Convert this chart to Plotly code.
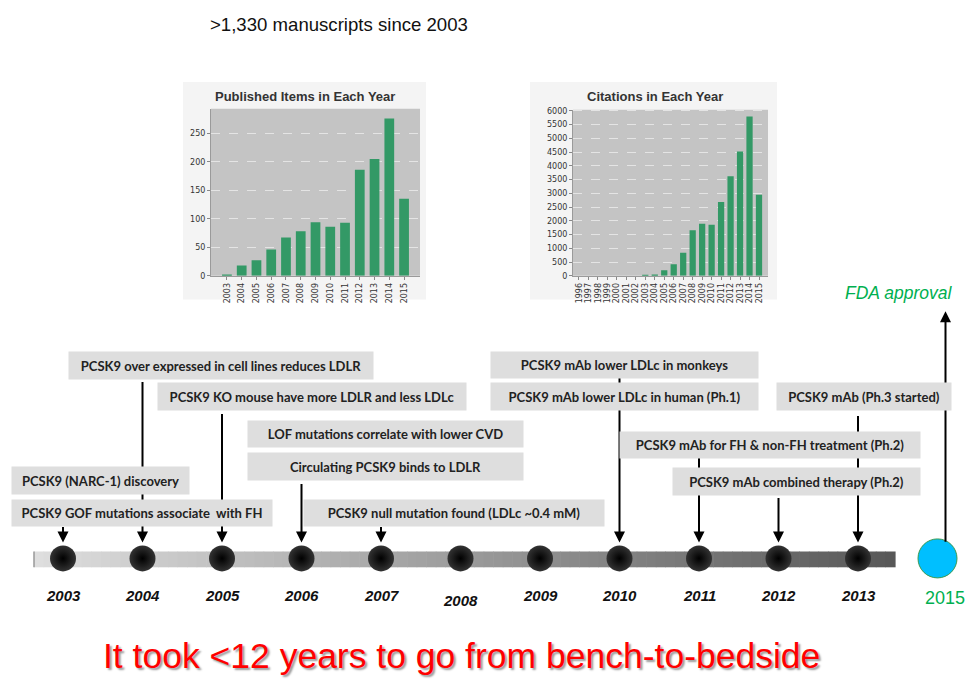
import plotly.graph_objects as go

W, H = 966, 682


def px(x):
    return x / W


def py(y):
    return 1 - y / H


# ---------------- data ----------------
pub_years = [str(y) for y in range(2003, 2016)]
pub_counts = [2, 18, 27, 46, 67, 78, 94, 86, 93, 186, 205, 276, 135]

cit_years = [str(y) for y in range(1996, 2016)]
cit_counts = [0, 0, 0, 0, 0, 0, 0, 20, 50, 200, 420, 840, 1660, 1890, 1860,
              2680, 3620, 4520, 5790, 2950]

timeline_years = ["2003", "2004", "2005", "2006", "2007", "2008", "2009",
                  "2010", "2011", "2012", "2013", "2015"]
milestone_years = timeline_years[:-1]
approval_year = "2015"

event_texts = [
    "PCSK9 over expressed in cell lines reduces LDLR",
    "PCSK9 KO mouse have more LDLR and less LDLc",
    "LOF mutations correlate with lower CVD",
    "Circulating PCSK9 binds to LDLR",
    "PCSK9 (NARC-1) discovery",
    "PCSK9 GOF mutations associate\u00a0 with FH",
    "PCSK9 null mutation found (LDLc ~0.4 mM)",
    "PCSK9 mAb lower LDLc in monkeys",
    "PCSK9 mAb lower LDLc in human (Ph.1)",
    "PCSK9 mAb (Ph.3 started)",
    "PCSK9 mAb for FH & non-FH treatment (Ph.2)",
    "PCSK9 mAb combined therapy (Ph.2)",
]
arrow_years = ["2003", "2004", "2005", "2006", "2007", "2010", "2011", "2012", "2013"]

# ---------------- layout geometry (pixels) ----------------
box_geom = [  # left, top, right, bottom
    (68, 352, 372, 379),
    (157, 384, 465, 411),
    (247, 422, 522, 448),
    (247, 454, 522, 481),
    (11, 469, 188, 496),
    (11, 502, 271, 528),
    (303, 502, 603, 528),
    (490, 352, 757, 378),
    (490, 384, 757, 411),
    (776, 384, 950, 411),
    (619, 433, 919, 459),
    (672, 470, 919, 497),
]
arrow_tails = [529, 384, 416, 486, 529, 379, 460, 500, 418]
ARROW_TIP = 546
LINE_Y = 562

GREEN_BAR = "#339966"
OFFICE_GREEN = "#00b050"
BOX_GRAY = "#dedede"


def cat(yr):
    return timeline_years.index(yr)


fig = go.Figure()

# bar charts
fig.add_trace(go.Bar(x=pub_years, y=pub_counts, marker_color=GREEN_BAR,
                     marker_line_width=0, width=0.66, xaxis="x", yaxis="y",
                     showlegend=False, hoverinfo="x+y"))
fig.add_trace(go.Bar(x=cit_years, y=cit_counts, marker_color=GREEN_BAR,
                     marker_line_width=0, width=0.66, xaxis="x2", yaxis="y2",
                     showlegend=False, hoverinfo="x+y"))

# timeline dots
fig.add_trace(go.Scatter(
    x=milestone_years, y=[0] * len(milestone_years), mode="markers",
    xaxis="x3", yaxis="y3", showlegend=False, hoverinfo="x",
    marker=dict(size=26, color="#333333",
                gradient=dict(type="radial", color="#000000"),
                line=dict(width=0))))
fig.add_trace(go.Scatter(
    x=[approval_year], y=[0], mode="markers", xaxis="x3", yaxis="y3",
    showlegend=False, hoverinfo="x",
    marker=dict(size=39, color="#00bfff", line=dict(width=1, color="#3a9a50"))))

shapes = []
# chart panels
for l, t, r, b in [(183, 80, 426, 300), (530, 80, 777, 300)]:
    shapes.append(dict(type="rect", xref="paper", yref="paper", x0=px(l), x1=px(r),
                       y0=py(b), y1=py(t), fillcolor="#f4f4f4", line_width=0,
                       layer="below"))
for xr, yr in [("x domain", "y domain"), ("x2 domain", "y2 domain")]:
    shapes.append(dict(type="rect", xref=xr, yref=yr, x0=0, x1=1, y0=0, y1=1,
                       fillcolor="#c4c4c4", line_width=0, layer="below"))

# gradient timeline bar
bx0, bx1, bt, bb = 34, 895, 555, 571
n = 90
c0, c1 = (222, 222, 222), (88, 88, 88)
for i in range(n):
    f = i / (n - 1)
    c = tuple(int(round(c0[k] + (c1[k] - c0[k]) * f)) for k in range(3))
    xa = bx0 + (bx1 - bx0) * i / n
    xb = bx0 + (bx1 - bx0) * (i + 1) / n + 0.6
    shapes.append(dict(type="rect", xref="paper", yref="paper", x0=px(xa), x1=px(xb),
                       y0=py(bb), y1=py(bt), fillcolor="rgb(%d,%d,%d)" % c,
                       line_width=0, layer="below"))
shapes.append(dict(type="line", xref="paper", yref="paper", x0=px(bx0), x1=px(bx0),
                   y0=py(bb), y1=py(bt), line=dict(color="#999999", width=1.5),
                   layer="below"))

annotations = []
# top caption
annotations.append(dict(text=">1,330 manuscripts since 2003", x=px(208), y=py(22),
                        xref="paper", yref="paper", xanchor="left", yanchor="middle",
                        showarrow=False,
                        font=dict(family="Liberation Sans, Arial", size=18.6,
                                  color="#111")))
# chart titles
for txt, cx in [("Published Items in Each Year", 305), ("Citations in Each Year", 655)]:
    annotations.append(dict(text="<b>%s</b>" % txt, x=px(cx), y=py(95), xref="paper",
                            yref="paper", xanchor="center", yanchor="middle",
                            showarrow=False,
                            font=dict(family="Liberation Sans, Arial", size=13,
                                      color="#333")))

# arrows (drawn first so boxes cover them)
for yr, tail in zip(arrow_years, arrow_tails):
    annotations.append(dict(x=cat(yr), y=py(ARROW_TIP), xref="x3", yref="paper",
                            text="", showarrow=True, ax=0, ay=-(ARROW_TIP - tail),
                            arrowhead=2, arrowsize=1.1, arrowwidth=2,
                            arrowcolor="#000", standoff=0, startstandoff=0))
# FDA approval arrow
annotations.append(dict(x=cat(approval_year), y=py(312), xref="x3", yref="paper",
                        text="", xshift=8, showarrow=True, ax=0, ay=(544 - 312),
                        arrowhead=2, arrowsize=1.1, arrowwidth=2, arrowcolor="#000",
                        standoff=0))

# event boxes
for txt, (l, t, r, b) in zip(event_texts, box_geom):
    annotations.append(dict(text="<b>%s</b>" % txt, x=px(l), y=py(t), xref="paper",
                            yref="paper", xanchor="left", yanchor="top",
                            width=r - l, height=b - t, align="center", valign="middle",
                            bgcolor=BOX_GRAY, borderpad=0, showarrow=False,
                            font=dict(family="Lato, Open Sans", size=13, color="#222")))

# year labels
for yr in milestone_years:
    yy = 605 if yr == "2008" else 600
    annotations.append(dict(text="<b><i>%s</i></b>" % yr, x=cat(yr), y=py(yy),
                            xref="x3", yref="paper", xanchor="center",
                            yanchor="middle", showarrow=False,
                            font=dict(family="Liberation Sans, Arial", size=15,
                                      color="#111")))
annotations.append(dict(text=approval_year, x=cat(approval_year), y=py(602), xref="x3",
                        yref="paper", xanchor="center", yanchor="middle",
                        showarrow=False, xshift=7,
                        font=dict(family="Liberation Sans, Arial", size=18,
                                  color=OFFICE_GREEN)))
annotations.append(dict(text="<i>FDA approval</i>", x=px(954), y=py(293), xref="paper",
                        yref="paper", xanchor="right", yanchor="middle",
                        showarrow=False,
                        font=dict(family="Liberation Sans, Arial", size=17.5,
                                  color=OFFICE_GREEN)))
annotations.append(dict(text="It took <12 years to go from bench-to-bedside",
                        x=px(461), y=py(661), xref="paper", yref="paper",
                        xanchor="center", yanchor="middle", showarrow=False,
                        font=dict(family="Liberation Sans, Arial", size=35.5,
                                  color="#ff0000",
                                  shadow="2px 2px 2px #9a9a9a")))

tick_font = dict(family="DejaVu Sans", size=8, color="#333")
axis_common = dict(showline=True, linecolor="#9a9a9a", ticks="outside", ticklen=3,
                   tickcolor="#888", zeroline=False, fixedrange=True)

# category axis for timeline: index 0 at 63px, 79.5px per category
r0 = -63 / 79.5
r1 = r0 + W / 79.5
y3lo = -(1 - LINE_Y / H)

fig.update_layout(
    width=W, height=H, margin=dict(l=0, r=0, t=0, b=0),
    paper_bgcolor="white", plot_bgcolor="rgba(0,0,0,0)",
    showlegend=False,
    xaxis=dict(domain=[px(211), px(420)], type="category", range=[-1.08, 13.08],
               tickmode="array", tickvals=pub_years, ticktext=pub_years,
               tickangle=-90, tickfont=tick_font, **axis_common),
    yaxis=dict(domain=[py(276), py(107)], range=[0, 293], dtick=50,
               showgrid=True, gridcolor="#e4e4e4", griddash="dash", gridwidth=1,
               tickfont=tick_font, **axis_common),
    xaxis2=dict(domain=[px(573), px(768)], type="category", range=[-0.63, 19.95],
                tickmode="array", tickvals=cit_years, ticktext=cit_years,
                tickangle=-90, tickfont=tick_font, anchor="y2", **axis_common),
    yaxis2=dict(domain=[py(276), py(108)], range=[0, 6040], dtick=500,
                showgrid=True, gridcolor="#e4e4e4", griddash="dash", gridwidth=1,
                tickfont=tick_font, anchor="x2", **axis_common),
    xaxis3=dict(domain=[0, 1], type="category", categoryorder="array",
                categoryarray=timeline_years, range=[r0, r1], visible=False,
                anchor="y3", fixedrange=True),
    yaxis3=dict(domain=[0, 1], range=[y3lo, y3lo + 1], visible=False, anchor="x3",
                fixedrange=True),
    shapes=shapes, annotations=annotations,
)

fig.write_html("out.html", config={"displayModeBar": False},
               post_script="document.body.style.margin='0px';"
                           "document.body.style.overflow='hidden';")
